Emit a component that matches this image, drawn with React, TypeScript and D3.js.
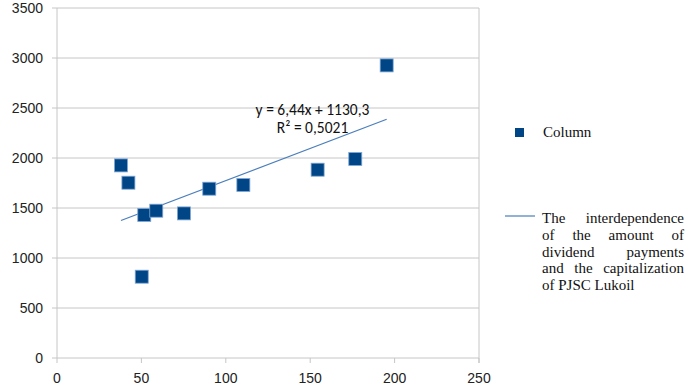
import React, { useLayoutEffect, useRef } from 'react';
import * as d3 from 'd3';

// dividend payments (x) vs capitalization (y)
const dividendX = [37.9, 42.3, 50.2, 51.7, 58.8, 75.2, 90.2, 110.4, 154.4, 176.7, 195.3];
const capitalY = [1926, 1753, 813, 1430, 1473, 1446, 1693, 1730, 1883, 1990, 2926];
const xTicks = [0, 50, 100, 150, 200, 250];
const yTicks = [0, 500, 1000, 1500, 2000, 2500, 3000, 3500];
const trendSlope = 6.44;
const trendIntercept = 1130.3;
const equationLines = ['y = 6,44x + 1130,3', 'R² = 0,5021'];
const legendColumn = 'Column';
const legendTrendLines = [
  'The interdependence',
  'of the amount of',
  'dividend payments',
  'and the capitalization',
  'of PJSC Lukoil',
];

const W = 695;
const H = 390;
const plot = { left: 57, right: 479, top: 8, bottom: 358 };
const legendTextWidth = 142;

const App: React.FC = () => {
  const legendRef = useRef<SVGGElement>(null);

  const x = d3.scaleLinear().domain([0, 250]).range([plot.left, plot.right]);
  const y = d3.scaleLinear().domain([0, 3500]).range([plot.bottom, plot.top]);

  const [xMin, xMax] = d3.extent(dividendX) as [number, number];
  const trend = d3.line<number>()
    .x((v) => x(v))
    .y((v) => y(trendSlope * v + trendIntercept))([xMin, xMax]);

  // justify legend lines (all but the last) by stretching word spacing
  useLayoutEffect(() => {
    if (!legendRef.current) return;
    d3.select(legendRef.current)
      .selectAll<SVGTextElement, unknown>('text.justify')
      .each(function () {
        const gaps = (this.textContent ?? '').split(' ').length - 1;
        if (!gaps) return;
        const extra = (legendTextWidth - this.getComputedTextLength()) / gaps;
        d3.select(this).attr('word-spacing', extra);
      });
  }, []);

  const grid = '#c6c6c6';
  const axisFont = '"Liberation Sans", Arial, sans-serif';
  const legendFont = '"Liberation Serif", "Times New Roman", serif';
  const markerSize = 13;

  return (
    <div style={{ position: 'fixed', left: 0, top: 0 }}>
      <svg width={W} height={H} style={{ display: 'block', background: '#fff' }}>
        {/* horizontal gridlines + y ticks */}
        {yTicks.map((t) => (
          <g key={`y${t}`}>
            <line x1={plot.left - 5} x2={plot.right} y1={y(t)} y2={y(t)} stroke={grid} strokeWidth={1} />
            <text x={43} y={y(t) + 5} textAnchor="end" fontFamily={axisFont} fontSize={14} fill="#222">
              {t}
            </text>
          </g>
        ))}
        {/* x ticks */}
        {xTicks.map((t) => (
          <g key={`x${t}`}>
            <line x1={x(t)} x2={x(t)} y1={plot.bottom} y2={plot.bottom + 5} stroke={grid} strokeWidth={1} />
            <text x={x(t)} y={383} textAnchor="middle" fontFamily={axisFont} fontSize={14} fill="#222">
              {t}
            </text>
          </g>
        ))}
        <line x1={plot.left} x2={plot.left} y1={plot.top} y2={plot.bottom} stroke={grid} />
        <line x1={plot.right} x2={plot.right} y1={plot.top} y2={plot.bottom + 5} stroke={grid} />

        {/* trendline */}
        <path d={trend ?? ''} fill="none" stroke="#4a7ebb" strokeWidth={1.2} />

        {/* points */}
        {dividendX.map((dx, i) => (
          <rect
            key={i}
            x={x(dx) - markerSize / 2}
            y={y(capitalY[i]) - markerSize / 2}
            width={markerSize}
            height={markerSize}
            fill="#004586"
            stroke="#7fa6d4"
            strokeWidth={0.8}
          />
        ))}

        {/* equation */}
        {equationLines.map((s, i) => (
          <text
            key={s}
            x={312.5}
            y={115 + i * 18}
            textAnchor="middle"
            fontFamily='Carlito, Calibri, "Open Sans", sans-serif'
            fontSize={15.5}
            fill="#111"
          >
            {s}
          </text>
        ))}

        {/* legend */}
        <g ref={legendRef}>
          <rect x={515} y={128} width={9} height={9} fill="#004586" />
          <text x={543} y={137} fontFamily={legendFont} fontSize={15} fill="#111">
            {legendColumn}
          </text>
          <line x1={505} x2={535} y1={216} y2={216} stroke="#4a7ebb" strokeWidth={1.2} />
          {legendTrendLines.map((s, i) => {
            const last = i === legendTrendLines.length - 1;
            return (
              <text
                key={s}
                className={last ? undefined : 'justify'}
                x={542}
                y={223 + i * 16.8}
                fontFamily={legendFont}
                fontSize={15}
                fill="#111"
                style={{ whiteSpace: 'pre' }}
              >
                {s}
              </text>
            );
          })}
        </g>
      </svg>
    </div>
  );
};

export default App;
